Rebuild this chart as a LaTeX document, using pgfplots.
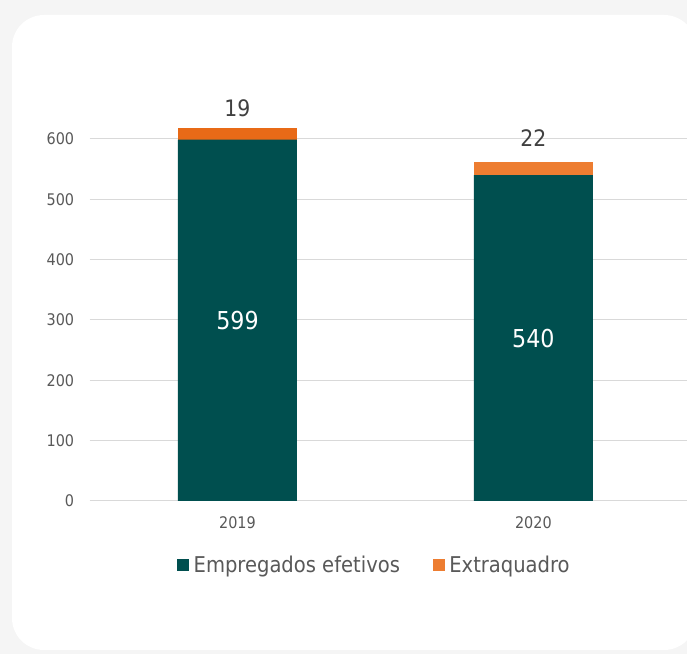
\documentclass[border=0pt]{standalone}
\usepackage{pgfplots}
\pgfplotsset{compat=1.18}
\usepackage{fontspec}
\setmainfont{DejaVu Sans Condensed}
\definecolor{cteal}{HTML}{004F4F}
\definecolor{corangeA}{HTML}{E86A17}
\definecolor{corangeB}{HTML}{ED7D31}
\definecolor{gridgray}{HTML}{D9D9D9}
\definecolor{ticktext}{HTML}{595959}
\definecolor{labeltext}{HTML}{404040}
\definecolor{bggray}{HTML}{F5F5F5}
\begin{document}
\begin{tikzpicture}
\clip (0pt,0pt) rectangle (515.25pt,490.5pt);
\fill[bggray] (0pt,0pt) rectangle (515.25pt,490.5pt);
\fill[white, rounded corners=24pt] (9pt,3pt) rectangle (522pt,479.25pt);
\begin{axis}[
  scale only axis,
  width=448.1pt, height=271.5pt,
  at={(67.125pt,114.75pt)}, anchor=south west,
  ybar stacked, bar width=89.25pt,
  xmin=-0.5, xmax=1.519, ymin=0, ymax=600,
  xtick={0,1}, xticklabels={2019,2020},
  ytick={0,100,200,300,400,500,600},
  /pgf/number format/assume math mode=true,
  axis line style={draw=none},
  major tick length=0pt,
  ymajorgrids, grid style={color=gridgray, line width=0.75pt},
  clip=false,
  yticklabel style={font=\fontsize{12}{14}\selectfont, text=ticktext, xshift=-8pt},
  xticklabel style={font=\fontsize{12}{14}\selectfont, text=ticktext, yshift=-8pt},
  legend style={at={(0.479,-0.1768)}, anchor=center, draw=none, fill=none,
    legend columns=2, font=\fontsize{16.3}{19}\selectfont, text=ticktext,
    /tikz/every odd column/.append style={column sep=0pt},
    /tikz/every even column/.append style={column sep=21pt},
    nodes={inner xsep=3.5pt}},
  legend image code/.code={\fill[#1] (0pt,-4.5pt) rectangle (9pt,4.5pt);},
]
\addplot[fill=cteal, draw=none, point meta=explicit symbolic,
  nodes near coords,
  nodes near coords style={anchor=center, text=white, font=\fontsize{18.5}{22}\selectfont}]
  coordinates {(0,599)[599] (1,540)[540]};
\addplot[fill=corangeA, draw=none, forget plot, point meta=explicit symbolic,
  nodes near coords,
  nodes near coords style={anchor=south, inner sep=0pt, yshift=12.5pt, text=labeltext, font=\fontsize{17}{20}\selectfont}]
  coordinates {(0,19)[19] (1,0)[{}]};
\addplot[fill=corangeB, draw=none, point meta=explicit symbolic,
  nodes near coords,
  nodes near coords style={anchor=south, inner sep=0pt, yshift=16.5pt, text=labeltext, font=\fontsize{17}{20}\selectfont}]
  coordinates {(0,0)[{}] (1,22)[22]};
\legend{Empregados efetivos, Extraquadro}
\end{axis}
\end{tikzpicture}
\end{document}
